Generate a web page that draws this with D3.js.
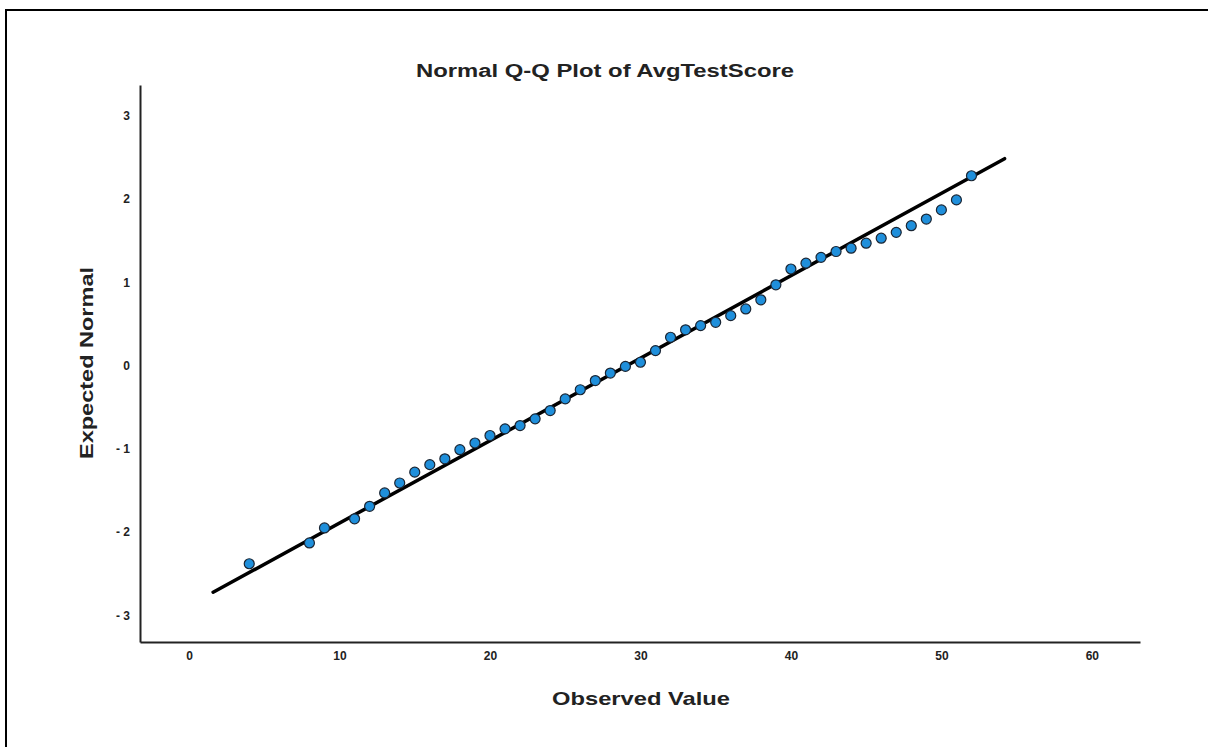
<!DOCTYPE html>
<html>
<head>
<meta charset="utf-8">
<script src="https://cdn.jsdelivr.net/npm/d3@7"></script>
<style>
  html, body { margin: 0; padding: 0; background: #fff; }
  svg { display: block; }
  text { font-family: "Liberation Sans", Arial, sans-serif; }
</style>
</head>
<body>
<svg id="chart" width="1208" height="747"></svg>
<script>
// Observed values (AvgTestScore) and their expected normal scores
const observed = [4, 8, 9, 11, 12, 13, 14, 15, 16, 17, 18, 19, 20, 21, 22, 23, 24, 25, 26, 27, 28,
  29, 30, 31, 32, 33, 34, 35, 36, 37, 38, 39, 40, 41, 42, 43, 44, 45, 46, 47, 48, 49, 50, 51, 52];
const expected = [-2.38, -2.13, -1.95, -1.84, -1.69, -1.53, -1.41, -1.28, -1.19, -1.12, -1.01,
  -0.93, -0.84, -0.76, -0.72, -0.64, -0.54, -0.40, -0.29, -0.18, -0.09, -0.01, 0.04, 0.18, 0.34,
  0.43, 0.48, 0.52, 0.60, 0.68, 0.79, 0.97, 1.16, 1.23, 1.30, 1.37, 1.41, 1.47, 1.53, 1.60, 1.68,
  1.76, 1.87, 1.99, 2.28];

// Reference line of the fitted normal: z = (x - mean) / sd
const fitMean = 29.1;
const fitSd = 10.1;
const lineExtent = [1.6, 54.2];

// Axis ticks
const xTicks = [0, 10, 20, 30, 40, 50, 60];
const yTicks = [-3, -2, -1, 0, 1, 2, 3];
const xDomain = [-3.26, 63.2];
const yDomain = [-3.32, 3.37];

const svg = d3.select("#chart");

// outer frame (top and left edges)
svg.append("line").attr("x1", 6).attr("y1", 10).attr("x2", 1208).attr("y2", 10)
  .attr("stroke", "#000").attr("stroke-width", 2);
svg.append("line").attr("x1", 6).attr("y1", 9).attr("x2", 6).attr("y2", 747)
  .attr("stroke", "#000").attr("stroke-width", 2);

const plot = { left: 140, right: 1140, top: 85, bottom: 642 };

const x = d3.scaleLinear().domain(xDomain).range([plot.left, plot.right]);
const y = d3.scaleLinear().domain(yDomain).range([plot.bottom, plot.top]);

const fmtY = d => d < 0 ? "- " + Math.abs(d) : String(d);

// x axis
const gx = svg.append("g").attr("transform", `translate(0,${plot.bottom})`)
  .call(d3.axisBottom(x).tickValues(xTicks).tickSize(0).tickSizeOuter(0).tickPadding(9));
gx.select(".domain").attr("stroke", "#222").attr("stroke-width", 2);
gx.selectAll("text").attr("font-size", 12).attr("font-weight", "bold").attr("fill", "#222");

// y axis
const gy = svg.append("g").attr("transform", `translate(${plot.left},0)`)
  .call(d3.axisLeft(y).tickValues(yTicks).tickFormat(fmtY).tickSize(0).tickSizeOuter(0).tickPadding(10));
gy.select(".domain").attr("stroke", "#222").attr("stroke-width", 2);
gy.selectAll("text").attr("font-size", 12).attr("font-weight", "bold").attr("fill", "#222");

// reference line
const lineData = lineExtent.map(v => [v, (v - fitMean) / fitSd]);
svg.append("path")
  .datum(lineData)
  .attr("d", d3.line().x(d => x(d[0])).y(d => y(d[1])))
  .attr("stroke", "#000").attr("stroke-width", 3.5).attr("fill", "none")
  .attr("stroke-linecap", "round");

// points
svg.append("g").selectAll("circle")
  .data(observed.map((v, i) => [v, expected[i]]))
  .join("circle")
  .attr("cx", d => x(d[0]))
  .attr("cy", d => y(d[1]))
  .attr("r", 5)
  .attr("fill", "#1f8fdb")
  .attr("stroke", "#1a2533")
  .attr("stroke-width", 1.2);

// titles
svg.append("text")
  .attr("x", 605).attr("y", 77)
  .attr("text-anchor", "middle")
  .attr("font-size", 18).attr("font-weight", "bold").attr("fill", "#222")
  .attr("textLength", 378).attr("lengthAdjust", "spacingAndGlyphs")
  .text("Normal Q-Q Plot of AvgTestScore");

svg.append("text")
  .attr("x", 641).attr("y", 705)
  .attr("text-anchor", "middle")
  .attr("font-size", 19).attr("font-weight", "bold").attr("fill", "#222")
  .attr("textLength", 178).attr("lengthAdjust", "spacingAndGlyphs")
  .text("Observed Value");

svg.append("text")
  .attr("transform", "translate(93,363) rotate(-90)")
  .attr("text-anchor", "middle")
  .attr("font-size", 19).attr("font-weight", "bold").attr("fill", "#222")
  .attr("textLength", 192).attr("lengthAdjust", "spacingAndGlyphs")
  .text("Expected Normal");
</script>
</body>
</html>
